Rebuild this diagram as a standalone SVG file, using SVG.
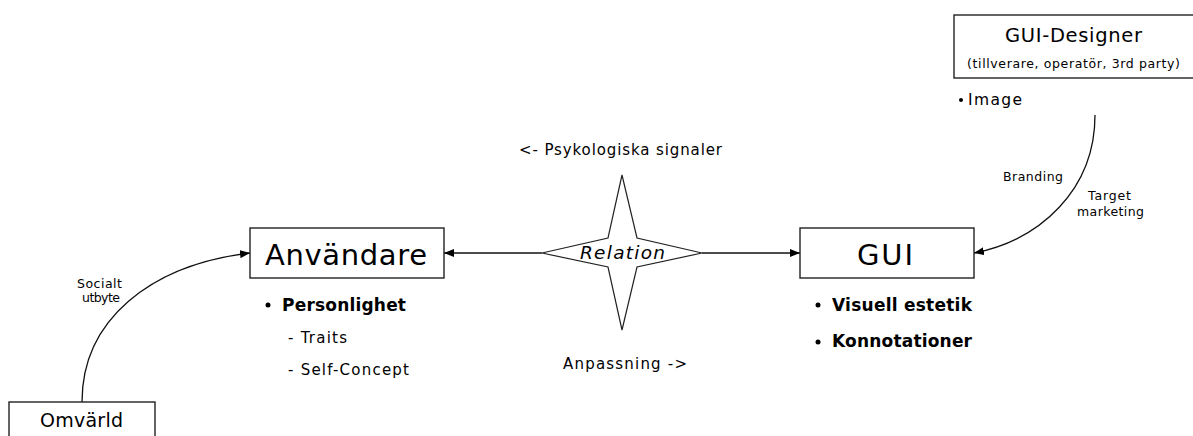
<svg xmlns="http://www.w3.org/2000/svg" width="1193" height="436" viewBox="0 0 1193 436">
<defs>
<style>
text{font-family:"DejaVu Sans",Verdana,"Liberation Sans",sans-serif;fill:#000}
.box{fill:#fff;stroke:#222;stroke-width:1.4}
.ln{fill:none;stroke:#111;stroke-width:1.3}
.big{font-size:29px}
.b{font-size:17px;font-weight:bold}
.m{font-size:15px}
.s{font-size:12.5px}
.it{font-size:18.5px;font-style:italic}
</style>
<marker id="ah" viewBox="0 0 10 8" refX="10" refY="4" markerWidth="10" markerHeight="8" markerUnits="userSpaceOnUse" orient="auto">
<path d="M0,0 L10,4 L0,8 Z" fill="#000"/>
</marker>
</defs>
<rect width="1193" height="436" fill="#fff"/>
<g id="connectors">
<path class="ln" d="M542,253 L444,253" marker-end="url(#ah)"/>
<path class="ln" d="M702,253 L800,253" marker-end="url(#ah)"/>
<path class="ln" d="M1095,115 C1095,190 1040,240 974,253" marker-end="url(#ah)"/>
<path class="ln" d="M82,402 C82,320 150,265 250,253" marker-end="url(#ah)"/>
<text class="s" x="1003" y="181" textLength="60">Branding</text>
<text class="s" x="1088" y="200" textLength="43">Target</text>
<text class="s" x="1077" y="216" textLength="67">marketing</text>
<text class="s" x="77" y="288" textLength="45">Socialt</text>
<text class="s" x="82" y="302" textLength="38">utbyte</text>
<text class="m" x="519" y="155" textLength="203">&lt;- Psykologiska signaler</text>
<text class="m" x="563" y="369" textLength="124">Anpassning -&gt;</text>
</g>
<g id="relation">
<polygon points="622,175 637,238 702,253 637,267 622,330 608,267 542,253 608,238" fill="#fff" stroke="#222" stroke-width="1.2"/>
<text class="it" x="580" y="259" textLength="85">Relation</text>
</g>
<g id="anvandare">
<rect class="box" x="250" y="228" width="194" height="50"/>
<text class="big" x="265" y="265" textLength="162">Användare</text>
<circle cx="268" cy="305" r="2.5" fill="#000"/>
<text class="b" x="282" y="311" textLength="124">Personlighet</text>
<text class="m" x="288" y="343" textLength="59">- Traits</text>
<text class="m" x="288" y="375" textLength="121">- Self-Concept</text>
</g>
<g id="gui">
<rect class="box" x="800" y="228" width="174" height="50"/>
<text class="big" x="857" y="265" textLength="56">GUI</text>
<circle cx="818" cy="305" r="2.5" fill="#000"/>
<text class="b" x="832" y="311" textLength="140">Visuell estetik</text>
<circle cx="818" cy="342" r="2.5" fill="#000"/>
<text class="b" x="832" y="347" textLength="140">Konnotationer</text>
</g>
<g id="gui-designer">
<rect class="box" x="954" y="15" width="250" height="63"/>
<text x="1005" y="42" font-size="19.5" textLength="137">GUI-Designer</text>
<text class="s" x="967" y="68" textLength="213">(tillverare, operatör, 3rd party)</text>
<circle cx="961" cy="100" r="2" fill="#000"/>
<text x="968" y="105" font-size="15.5" textLength="54">Image</text>
</g>
<g id="omvarld">
<rect class="box" x="9" y="402" width="146" height="45"/>
<text x="40" y="427" font-size="19" textLength="83">Omvärld</text>
</g>
</svg>
